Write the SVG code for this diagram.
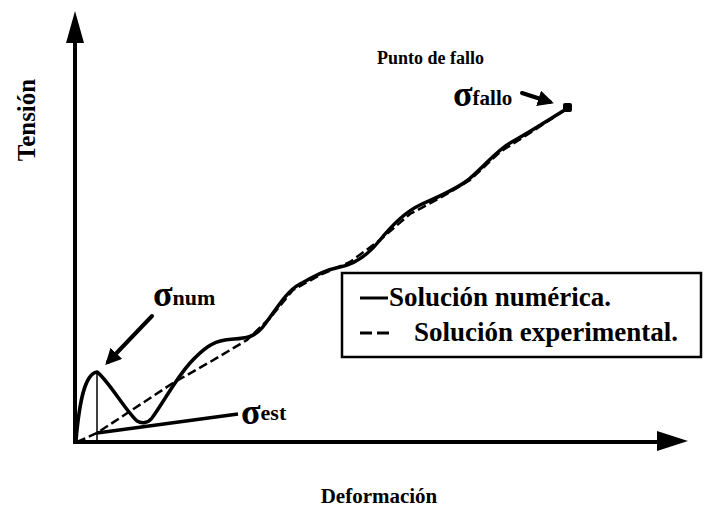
<svg xmlns="http://www.w3.org/2000/svg" width="705" height="509" viewBox="0 0 705 509">
<style>
.t{font-family:'Liberation Serif','DejaVu Serif',serif;font-weight:bold;fill:#000}
.ax{stroke:#000;stroke-width:4;fill:none}
.num{stroke:#000;stroke-width:3.5;fill:none;stroke-linejoin:round;stroke-linecap:round}
.exp{stroke:#000;stroke-width:2.5;fill:none;stroke-dasharray:9 4}
.ptr{stroke:#000;stroke-width:4;fill:none;stroke-linecap:round}
</style>
<defs>
<marker id="ah" markerWidth="4" markerHeight="4" refX="3" refY="2" orient="auto" markerUnits="strokeWidth">
<path d="M0,0 L4,2 L0,4 z" fill="#000"/>
</marker>
</defs>
<rect width="705" height="509" fill="#fff"/>
<g id="axes">
<line class="ax" x1="75" y1="444" x2="75" y2="40"/>
<path d="M75,11 L84,43 L66,43 z" fill="#000"/>
<line class="ax" x1="73" y1="442" x2="660" y2="442"/>
<path d="M688,441 L657,431 L657,451 z" fill="#000"/>
</g>
<g id="axis-labels">
<text class="t" x="0" y="0" font-size="25" transform="translate(35,120) rotate(-90)" text-anchor="middle">Tensión</text>
<text class="t" x="379" y="503" font-size="21" text-anchor="middle">Deformación</text>
</g>
<g id="curves">
<path class="exp" d="M77,442 L97,433 L135,408 L173,383 L210,362 L247,340 L270,318 L293,290 L320,275 L350,262 L380,240 L410,214 L440,198 L470,180 L500,152 L533,131 L568,108"/>
<path class="num" d="M76,441 C79,405 84,374 97,372 C108,380 125,410 137,421 C142,424 148,423 152,418 C165,400 175,380 190,363 C203,349 212,342 225,340 C240,338 252,340 262,328 C275,312 285,292 300,284 C315,276 325,270 340,267 C355,264 368,255 380,240 C393,224 405,212 420,205 C440,196 455,190 468,180 C485,166 495,152 510,143 C530,132 545,122 568,108"/>
<line x1="97" y1="374" x2="97" y2="442" stroke="#000" stroke-width="1.5"/>
<rect x="563" y="103" width="9" height="9" rx="2" fill="#000"/>
</g>
<g id="annotations">
<line class="ptr" x1="152" y1="316" x2="108" y2="362" marker-end="url(#ah)"/>
<line stroke="#000" stroke-width="3.5" x1="97" y1="433" x2="238" y2="414"/>
<line class="ptr" x1="522" y1="93" x2="550" y2="102" marker-end="url(#ah)"/>
<text class="t" x="153" y="306" font-size="36">σ<tspan font-size="22" dy="-1">num</tspan></text>
<text class="t" x="241" y="424" font-size="36">σ<tspan font-size="22" dy="-4">est</tspan></text>
<text class="t" x="453" y="106" font-size="36">σ<tspan font-size="21" dy="-1">fallo</tspan></text>
<text class="t" x="377" y="64" font-size="18">Punto de fallo</text>
</g>
<g id="legend">
<rect x="342" y="273" width="359" height="84" fill="none" stroke="#000" stroke-width="2.5"/>
<line x1="360" y1="298" x2="388" y2="298" stroke="#000" stroke-width="3"/>
<line x1="360" y1="333" x2="372" y2="333" stroke="#000" stroke-width="3"/>
<line x1="377" y1="333" x2="389" y2="333" stroke="#000" stroke-width="3"/>
<text class="t" x="389" y="306" font-size="27">Solución numérica.</text>
<text class="t" x="414" y="341" font-size="27">Solución experimental.</text>
</g>
</svg>
